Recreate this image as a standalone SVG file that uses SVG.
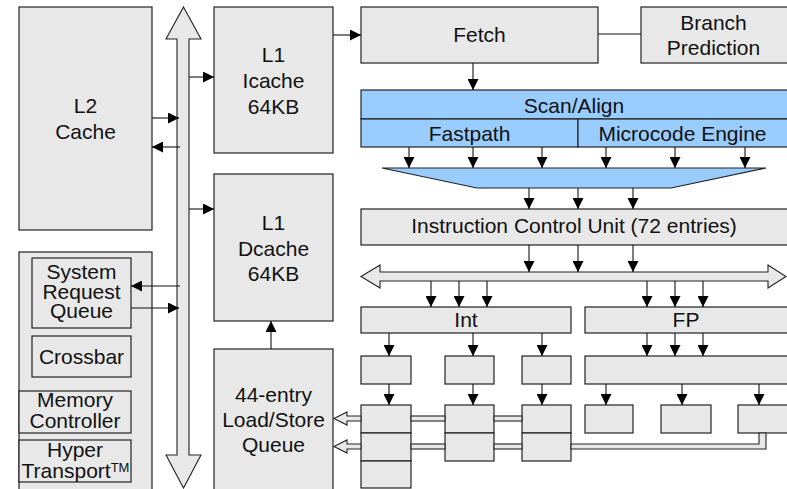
<svg xmlns="http://www.w3.org/2000/svg" width="787" height="489" viewBox="0 0 787 489">
<style>
.b{fill:#e8e8e8;stroke:#222;stroke-width:1.2}
.bl{fill:#99ccff;stroke:#222;stroke-width:1.2}
.t{font-family:"Liberation Sans",Arial,sans-serif;font-size:21px;fill:#111;text-anchor:middle}
.c{stroke:#111;stroke-width:1.1;fill:none;marker-end:url(#ah)}
.l{stroke:#111;stroke-width:1.1;fill:none}
.h{fill:#e8e8e8;stroke:#222;stroke-width:1.1}
</style>
<defs>
<marker id="ah" viewBox="0 0 10 10" refX="10" refY="5" markerWidth="11" markerHeight="11" markerUnits="userSpaceOnUse" orient="auto">
<path d="M0,0 L10,5 L0,10 Z" fill="#000"/>
</marker>
</defs>
<rect width="787" height="489" fill="#fff"/>

<g id="l2cache"><rect class="b" x="19" y="7" width="133" height="223"/><text class="t" x="85.5" y="113">L2</text><text class="t" x="85.5" y="138.5">Cache</text></g>

<g id="sysblock"><rect class="b" x="19" y="252" width="133" height="245"/></g>
<g id="srq"><rect class="b" x="32" y="258" width="99" height="70"/><text class="t" x="81.5" y="279">System</text><text class="t" x="81.5" y="298.5">Request</text><text class="t" x="81.5" y="318">Queue</text></g>
<g id="crossbar"><rect class="b" x="32" y="336" width="99" height="41"/><text class="t" x="81.5" y="364">Crossbar</text></g>
<g id="memctrl"><rect class="b" x="19" y="391" width="112" height="42"/><text class="t" x="75" y="407">Memory</text><text class="t" x="75" y="428">Controller</text></g>
<g id="hypertransport"><rect class="b" x="19" y="440" width="112" height="42"/><text class="t" x="75" y="457">Hyper</text><text class="t" x="75.5" y="478">Transport<tspan font-size="13" dy="-6">TM</tspan></text></g>

<g id="sysbus"><path class="h" d="M183.5,7 L201,39 L189,39 L189,455 L201,455 L183.5,488 L166,455 L177,455 L177,39 L166,39 Z"/></g>

<g id="icache"><rect class="b" x="214" y="7" width="119" height="146"/><text class="t" x="273.5" y="62">L1</text><text class="t" x="273.5" y="88">Icache</text><text class="t" x="273.5" y="114">64KB</text></g>
<g id="dcache"><rect class="b" x="214" y="174" width="119" height="147"/><text class="t" x="273.5" y="230">L1</text><text class="t" x="273.5" y="255.5">Dcache</text><text class="t" x="273.5" y="281">64KB</text></g>
<g id="lsq"><rect class="b" x="214" y="349" width="119" height="150"/><text class="t" x="273.5" y="402">44-entry</text><text class="t" x="273.5" y="427">Load/Store</text><text class="t" x="273.5" y="452">Queue</text></g>

<g id="fetch"><rect class="b" x="361" y="7" width="237" height="56"/><text class="t" x="479.5" y="42">Fetch</text></g>
<g id="branch"><rect class="b" x="641" y="7" width="156" height="56"/><text class="t" x="713.5" y="30">Branch</text><text class="t" x="713.5" y="55">Prediction</text></g>

<g id="scanalign"><rect class="bl" x="361" y="90" width="436" height="29"/><text class="t" x="574" y="113">Scan/Align</text></g>
<g id="fastpath"><rect class="bl" x="361" y="119" width="217" height="28"/><text class="t" x="469.5" y="141">Fastpath</text></g>
<g id="microcode"><rect class="bl" x="578" y="119" width="219" height="28"/><text class="t" x="682.5" y="141">Microcode Engine</text></g>
<g id="decoder"><path class="bl" d="M382,168 L766,168 L671,188 L477,188 Z"/></g>

<g id="icu"><rect class="b" x="361" y="209" width="436" height="36"/><text class="t" x="574" y="233">Instruction Control Unit (72 entries)</text></g>

<g id="resultbus"><path class="h" d="M361,276.5 L380,265 L380,272 L768,272 L768,265 L786,276.5 L768,288 L768,281 L380,281 L380,288 Z"/></g>

<g id="int"><rect class="b" x="361" y="307" width="210" height="26"/><text class="t" x="466" y="327">Int</text></g>
<g id="fp"><rect class="b" x="585" y="307" width="212" height="26"/><text class="t" x="686" y="327">FP</text></g>

<g id="intsched1"><rect class="b" x="361" y="356" width="50" height="28"/></g>
<g id="intsched2"><rect class="b" x="445" y="356" width="49" height="28"/></g>
<g id="intsched3"><rect class="b" x="522" y="356" width="49" height="28"/></g>
<g id="fpsched"><rect class="b" x="585" y="356" width="212" height="28"/></g>

<g id="alu1"><rect class="b" x="361" y="405" width="50" height="28"/><rect class="b" x="361" y="433" width="50" height="28"/><rect class="b" x="361" y="461" width="50" height="27"/></g>
<g id="alu2"><rect class="b" x="445" y="405" width="49" height="28"/><rect class="b" x="445" y="433" width="49" height="28"/></g>
<g id="alu3"><rect class="b" x="522" y="405" width="49" height="28"/><rect class="b" x="522" y="433" width="49" height="28"/></g>
<g id="fpu1"><rect class="b" x="585" y="405" width="48" height="28"/></g>
<g id="fpu2"><rect class="b" x="661" y="405" width="50" height="28"/></g>
<g id="fpu3"><rect class="b" x="738" y="405" width="59" height="28"/></g>

<g id="connectors">
<line class="c" x1="152" y1="118" x2="179" y2="118"/>
<line class="c" x1="180" y1="147" x2="152" y2="147"/>
<line class="c" x1="180" y1="286" x2="131" y2="286"/>
<line class="c" x1="131" y1="308" x2="179" y2="308"/>
<line class="c" x1="189" y1="77" x2="214" y2="77"/>
<line class="c" x1="189" y1="209" x2="214" y2="209"/>
<line class="c" x1="333" y1="35" x2="361" y2="35"/>
<line class="l" x1="598" y1="34" x2="641" y2="34"/>
<line class="c" x1="271" y1="349" x2="271" y2="321"/>
<line class="c" x1="473" y1="63" x2="473" y2="90"/>
<line class="c" x1="409" y1="147" x2="409" y2="168"/>
<line class="c" x1="473" y1="147" x2="473" y2="168"/>
<line class="c" x1="542" y1="147" x2="542" y2="168"/>
<line class="c" x1="606" y1="147" x2="606" y2="168"/>
<line class="c" x1="675" y1="147" x2="675" y2="168"/>
<line class="c" x1="745" y1="147" x2="745" y2="168"/>
<line class="c" x1="529" y1="188" x2="529" y2="209"/>
<line class="c" x1="578" y1="188" x2="578" y2="209"/>
<line class="c" x1="633" y1="188" x2="633" y2="209"/>
<line class="c" x1="529" y1="245" x2="529" y2="272"/>
<line class="c" x1="578" y1="245" x2="578" y2="272"/>
<line class="c" x1="633" y1="245" x2="633" y2="272"/>
<line class="c" x1="431" y1="281" x2="431" y2="307"/>
<line class="c" x1="459" y1="281" x2="459" y2="307"/>
<line class="c" x1="487" y1="281" x2="487" y2="307"/>
<line class="c" x1="647" y1="281" x2="647" y2="307"/>
<line class="c" x1="675" y1="281" x2="675" y2="307"/>
<line class="c" x1="703" y1="281" x2="703" y2="307"/>
<line class="c" x1="389" y1="333" x2="389" y2="356"/>
<line class="c" x1="473" y1="333" x2="473" y2="356"/>
<line class="c" x1="542" y1="333" x2="542" y2="356"/>
<line class="c" x1="647" y1="333" x2="647" y2="356"/>
<line class="c" x1="675" y1="333" x2="675" y2="356"/>
<line class="c" x1="703" y1="333" x2="703" y2="356"/>
<line class="c" x1="389" y1="384" x2="389" y2="405"/>
<line class="c" x1="473" y1="384" x2="473" y2="405"/>
<line class="c" x1="542" y1="384" x2="542" y2="405"/>
<line class="c" x1="606" y1="384" x2="606" y2="405"/>
<line class="c" x1="682" y1="384" x2="682" y2="405"/>
<line class="c" x1="759" y1="384" x2="759" y2="405"/>
<path class="h" d="M361,416 L347,416 L347,412 L334,418.5 L347,425 L347,421 L361,421 Z"/>
<path class="h" d="M361,444 L347,444 L347,440 L334,446.5 L347,453 L347,449 L361,449 Z"/>
<rect class="h" x="411" y="416" width="34" height="5"/>
<rect class="h" x="494" y="416" width="28" height="5"/>
<rect class="h" x="411" y="444" width="34" height="5"/>
<rect class="h" x="494" y="444" width="28" height="5"/>
<path class="h" d="M571,444 L759,444 L759,433 L766,433 L766,449 L571,449 Z"/>
</g>
</svg>
